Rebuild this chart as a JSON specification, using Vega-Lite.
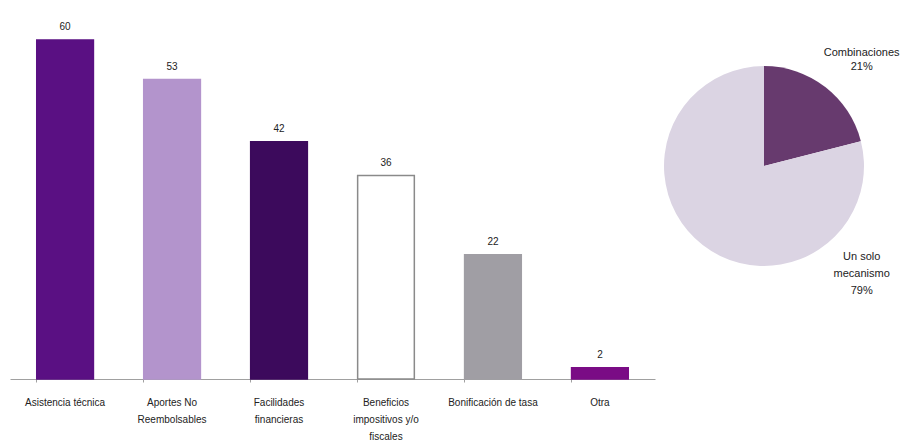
{
  "$schema": "https://vega.github.io/schema/vega-lite/v6.json",
  "padding": {"left": 10, "top": 22, "right": 0, "bottom": 0},
  "background": "white",
  "config": {
    "view": {"stroke": null},
    "font": "Liberation Sans",
    "concat": {"spacing": 0}
  },
  "resolve": {"scale": {"color": "independent", "theta": "independent"}},
  "hconcat": [
    {
      "width": 645,
      "height": 339,
      "data": {"values": [
        {"mecanismo": "Asistencia técnica", "valor": 60},
        {"mecanismo": "Aportes No Reembolsables", "valor": 53},
        {"mecanismo": "Facilidades financieras", "valor": 42},
        {"mecanismo": "Beneficios impositivos y/o fiscales", "valor": 36},
        {"mecanismo": "Bonificación de tasa", "valor": 22},
        {"mecanismo": "Otra", "valor": 2}
      ]},
      "encoding": {
        "x": {
          "field": "mecanismo", "type": "nominal", "sort": null,
          "scale": {"paddingInner": 0.47, "paddingOuter": 0.25},
          "axis": {
            "title": null, "labelAngle": 0, "domainColor": "#a0a0a0", "tickColor": "#a0a0a0",
            "tickSize": 3, "bandPosition": 0, "labelFontSize": 10, "labelColor": "#222222",
            "labelPadding": 15, "labelLineHeight": 17, "labelBaseline": "top",
            "labelExpr": "datum.value == 'Aportes No Reembolsables' ? ['Aportes No', 'Reembolsables'] : datum.value == 'Facilidades financieras' ? ['Facilidades', 'financieras'] : datum.value == 'Beneficios impositivos y/o fiscales' ? ['Beneficios', 'impositivos y/o', 'fiscales'] : datum.value"
          }
        },
        "y": {"field": "valor", "type": "quantitative", "scale": {"domain": [0, 60], "nice": false}, "axis": null}
      },
      "layer": [
        {
          "mark": {"type": "bar", "strokeWidth": 1.5},
          "encoding": {
            "color": {
              "field": "mecanismo", "type": "nominal", "legend": null,
              "scale": {
                "domain": ["Asistencia técnica", "Aportes No Reembolsables", "Facilidades financieras", "Beneficios impositivos y/o fiscales", "Bonificación de tasa", "Otra"],
                "range": ["#5a1083", "#b394cc", "#3c0a5c", "#ffffff", "#a09ea4", "#7a0c85"]
              }
            },
            "stroke": {
              "field": "mecanismo", "type": "nominal", "legend": null,
              "scale": {
                "domain": ["Asistencia técnica", "Aportes No Reembolsables", "Facilidades financieras", "Beneficios impositivos y/o fiscales", "Bonificación de tasa", "Otra"],
                "range": ["#5a1083", "#b394cc", "#3c0a5c", "#8a8a8a", "#a09ea4", "#7a0c85"]
              }
            }
          }
        },
        {
          "mark": {"type": "text", "baseline": "bottom", "dy": -8, "fontSize": 10, "color": "#222222"},
          "encoding": {"text": {"field": "valor", "type": "quantitative"}}
        }
      ]
    },
    {
      "width": 218,
      "height": 252,
      "data": {"values": [
        {"tipo": "Combinaciones", "pct": 21},
        {"tipo": "Un solo mecanismo", "pct": 79}
      ]},
      "encoding": {
        "theta": {"field": "pct", "type": "quantitative", "stack": true},
        "order": {"field": "pct", "type": "quantitative"}
      },
      "layer": [
        {
          "mark": {"type": "arc", "outerRadius": 100},
          "encoding": {
            "color": {
              "field": "tipo", "type": "nominal", "legend": null,
              "scale": {"domain": ["Combinaciones", "Un solo mecanismo"], "range": ["#673a6e", "#dbd4e3"]}
            }
          }
        },
        {
          "transform": [{"filter": "datum.tipo == 'Combinaciones'"}],
          "mark": {"type": "text", "radius": 130, "fontSize": 11, "color": "#222222", "lineHeight": 14, "dx": 18, "dy": -10},
          "encoding": {"text": {"value": ["Combinaciones", "21%"]}}
        },
        {
          "transform": [{"filter": "datum.tipo == 'Un solo mecanismo'"}],
          "mark": {"type": "text", "radius": 130, "fontSize": 11, "color": "#222222", "lineHeight": 17, "dx": 18, "dy": -12},
          "encoding": {"text": {"value": ["Un solo", "mecanismo", "79%"]}}
        }
      ]
    }
  ]
}
